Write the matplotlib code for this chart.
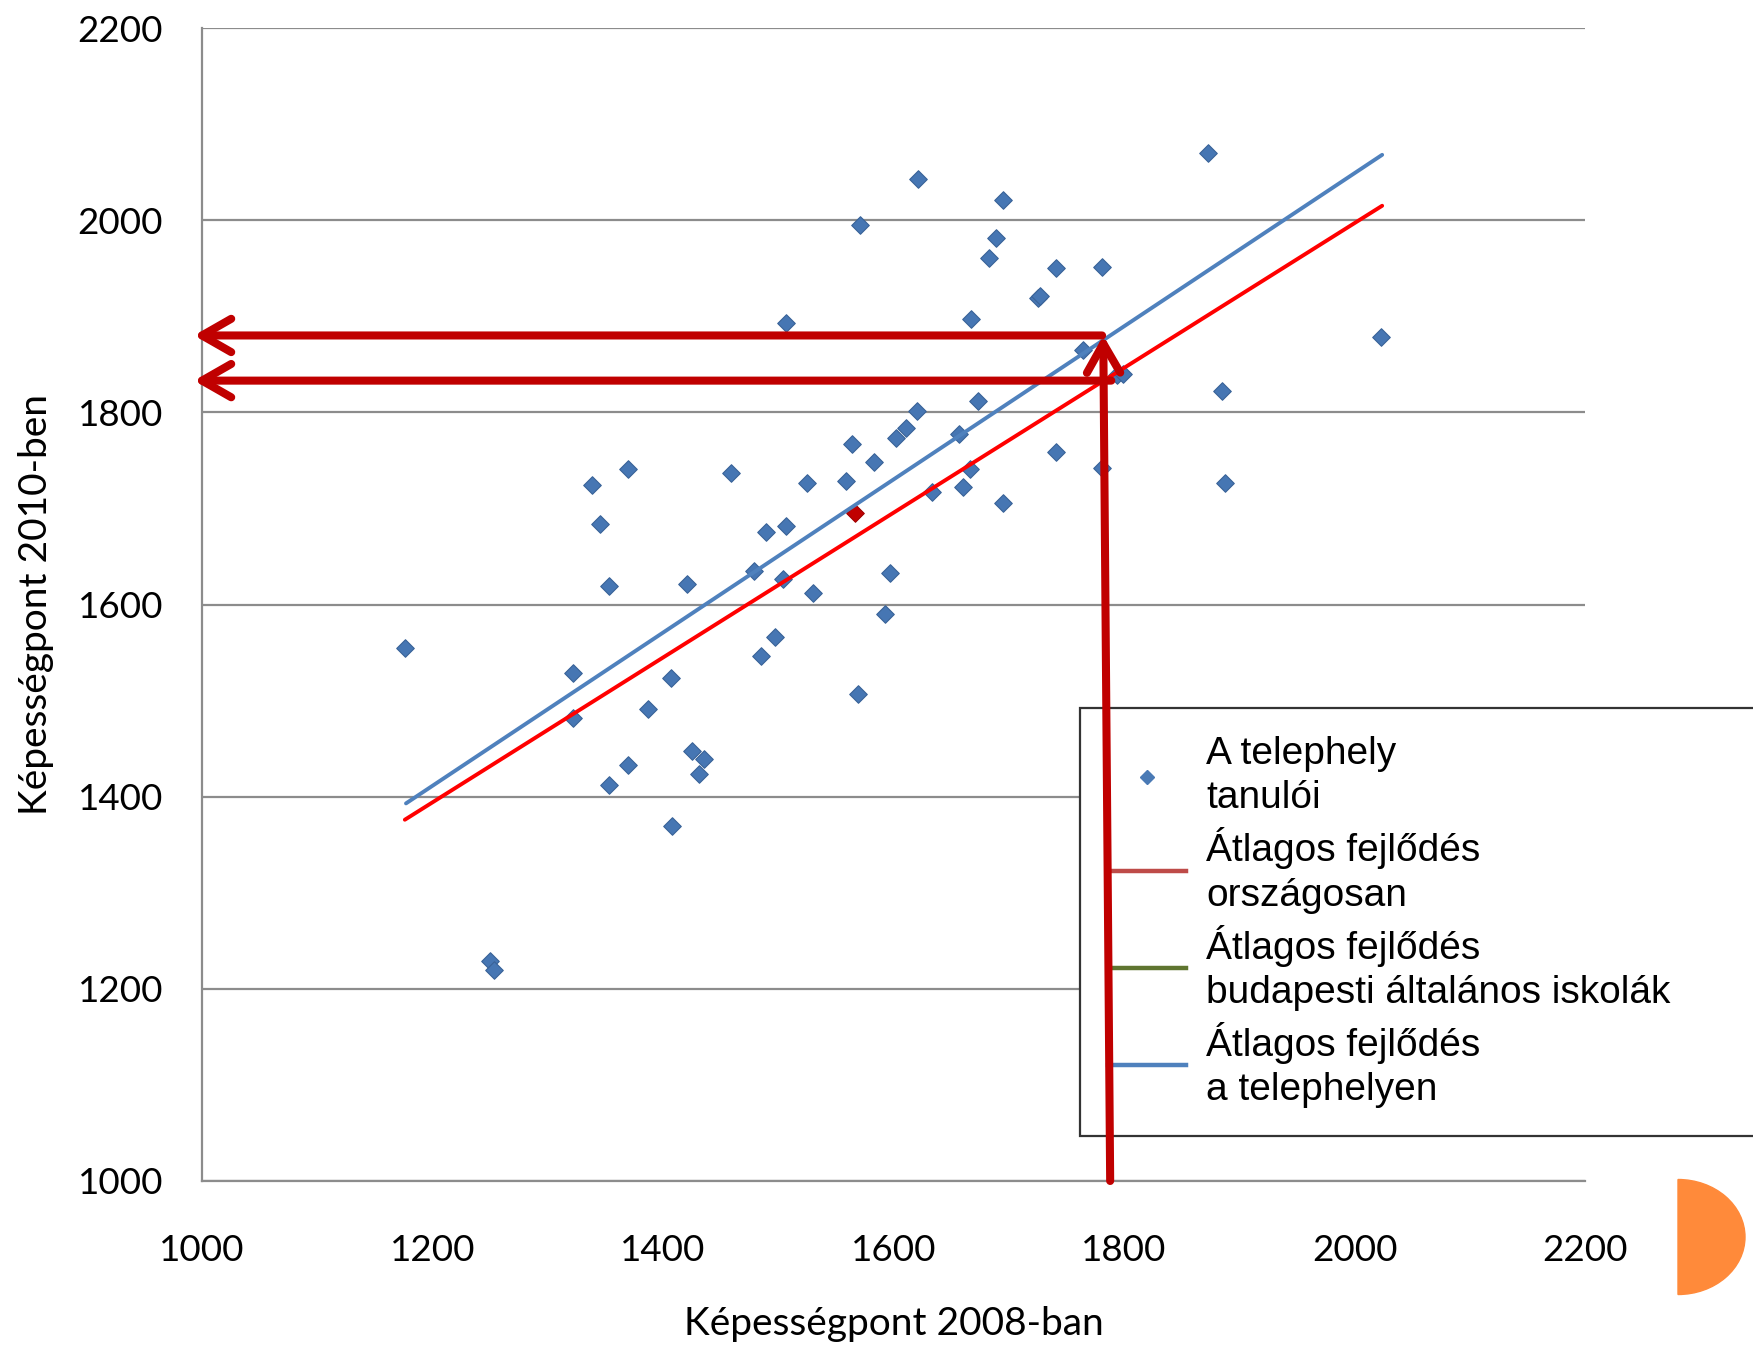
import matplotlib
matplotlib.use("Agg")
import matplotlib.pyplot as plt
from matplotlib.lines import Line2D
from matplotlib.patches import Wedge
from matplotlib import transforms

# ---- data ----
x2008 = [1176, 1250, 1253, 1322, 1322, 1338, 1345, 1353, 1353, 1370, 1370, 1387,
         1407, 1408, 1421, 1425, 1431, 1436, 1459, 1479, 1485, 1489, 1497, 1504,
         1507, 1507, 1525, 1530, 1559, 1564, 1569, 1571, 1583, 1593, 1597, 1602,
         1611, 1620, 1621, 1633, 1657, 1660, 1666, 1667, 1673, 1683, 1689, 1695,
         1695, 1725, 1727, 1741, 1741, 1764, 1781, 1781, 1794, 1799, 1873, 1885,
         1888, 2023]
y2010 = [1555, 1229, 1220, 1529, 1482, 1724, 1684, 1619, 1412, 1741, 1433, 1491,
         1524, 1369, 1621, 1448, 1424, 1439, 1737, 1635, 1546, 1675, 1566, 1627,
         1682, 1893, 1726, 1612, 1729, 1767, 1507, 1995, 1748, 1590, 1633, 1773,
         1784, 1801, 2043, 1717, 1777, 1722, 1741, 1897, 1812, 1961, 1981, 2021,
         1706, 1919, 1921, 1950, 1759, 1865, 1951, 1742, 1839, 1840, 2070, 1822,
         1726, 1878]
highlight_x = [1567]
highlight_y = [1695]

national_x = [1176, 2024]
national_y = [1376, 2015]
site_x = [1177, 2024]
site_y = [1393, 2068]

arrow_y_levels = [1880, 1833]
arrow_x_from = [1781, 1789]
arrow_x_to = 993
vert_arrow_x = [1788, 1782]
vert_arrow_y = [1000, 1880]

xticks = [1000, 1200, 1400, 1600, 1800, 2000, 2200]
yticks = [1000, 1200, 1400, 1600, 1800, 2000, 2200]

legend_labels = ["A telephely\ntanulói",
                 "Átlagos fejlődés\nországosan",
                 "Átlagos fejlődés\nbudapesti általános iskolák",
                 "Átlagos fejlődés\na telephelyen"]

xlabel = "Képességpont 2008-ban"
ylabel = "Képességpont 2010-ben"

# ---- figure ----
W, H = 1753, 1350
fig = plt.figure(figsize=(W / 100, H / 100), dpi=100)
left, right, top, bottom = 202, 1585, 28, 1181
ax = fig.add_axes([left / W, 1 - bottom / H, (right - left) / W, (bottom - top) / H])

tick_font = "Lato"
grid_col = "#8c8c8c"

ax.set_xlim(1000, 2200)
ax.set_ylim(1000, 2200)
ax.set_xticks(xticks)
ax.set_yticks(yticks)
ax.set_xticklabels([str(t) for t in xticks], fontfamily=tick_font, fontsize=26.5)
ax.set_yticklabels([str(t) for t in yticks], fontfamily=tick_font, fontsize=26.5)
ax.tick_params(axis="x", length=0, pad=38)
ax.tick_params(axis="y", length=0, pad=28)

for s in ["top", "right"]:
    ax.spines[s].set_visible(False)
for s in ["left", "bottom"]:
    ax.spines[s].set_color(grid_col)
    ax.spines[s].set_linewidth(1.6)
ax.yaxis.grid(True, color=grid_col, linewidth=1.6)
ax.set_axisbelow(True)

# data
ax.scatter(x2008, y2010, marker="D", s=80, color="#4676b3", edgecolors="#3a6398",
           linewidths=0.8, zorder=3)
ax.scatter(highlight_x, highlight_y, marker="D", s=80, color="#c00000",
           edgecolors="#a00000", linewidths=0.8, zorder=3)
ax.plot(site_x, site_y, color="#4f81bd", lw=2.8, solid_capstyle="round", zorder=4)
ax.plot(national_x, national_y, color="#ff0000", lw=2.8, solid_capstyle="round", zorder=4)

# legend
handles = [
    Line2D([], [], ls="none", marker="D", markersize=7, color="#4a7ab5"),
    Line2D([], [], color="#be4b48", lw=3.2),
    Line2D([], [], color="#5f7530", lw=3.2),
    Line2D([], [], color="#4f81bd", lw=3.2),
]
lx0, ly0 = 1080, 708
lx1, ly1 = 1800, 1137
leg = ax.legend(handles, legend_labels,
                bbox_to_anchor=(lx0 / W, 1 - ly1 / H, (lx1 - lx0) / W, (ly1 - ly0) / H),
                bbox_transform=fig.transFigure, mode="expand", loc="upper left",
                prop={"family": "Liberation Sans", "size": 28},
                handlelength=2.0, handletextpad=0.52, borderpad=0.72,
                labelspacing=0.28, borderaxespad=0, fancybox=False,
                framealpha=1, edgecolor="#333333")
for t in leg.get_texts():
    t.set_linespacing(1.3)
leg.get_frame().set_linewidth(1.6)
leg.set_zorder(6)

# arrows
arrow_col = "#c00000"
aprops = dict(arrowstyle="->,head_length=1.05,head_width=0.6", color=arrow_col,
              lw=5.8, shrinkA=0, shrinkB=0, mutation_scale=20,
              capstyle="round", joinstyle="round")
for yl, xf in zip(arrow_y_levels, arrow_x_from):
    a = ax.annotate("", xy=(arrow_x_to, yl), xytext=(xf, yl), arrowprops=aprops,
                    annotation_clip=False, zorder=10)
    a.arrow_patch.set_clip_on(False)
a = ax.annotate("", xy=(vert_arrow_x[1], vert_arrow_y[1]),
                xytext=(vert_arrow_x[0], vert_arrow_y[0]), arrowprops=aprops,
                annotation_clip=False, zorder=10)
a.arrow_patch.set_clip_on(False)

# axis labels
ax.set_xlabel(xlabel, fontfamily=tick_font, fontsize=28)
ax.set_ylabel(ylabel, fontfamily=tick_font, fontsize=28)
ax.xaxis.set_label_coords(0.5, -0.108)
ax.yaxis.set_label_coords(-0.107, 0.5)

# orange half-disc decoration (pixel coordinates)
cx, cy, rx, ry = 1678, 1237, 67, 57.5
trans = transforms.Affine2D().scale(rx / 100, ry / 100).translate(cx / 100, (H - cy) / 100) \
    + fig.dpi_scale_trans
fig.patches.append(Wedge((0, 0), 1, -90, 90, transform=trans, color="#ff8a3a"))

fig.savefig("out.png", dpi=100)
